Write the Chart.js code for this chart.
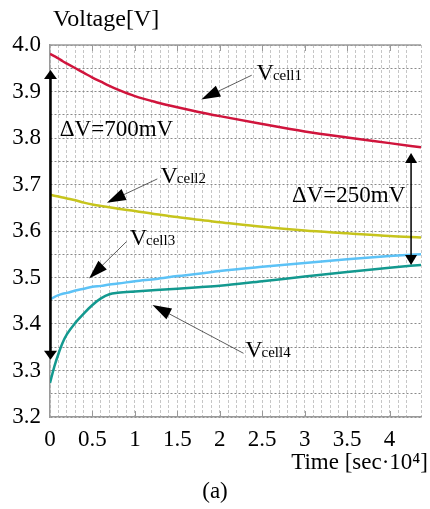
<!DOCTYPE html>
<html>
<head>
<meta charset="utf-8">
<script src="https://cdn.jsdelivr.net/npm/chart.js@4.4.1/dist/chart.umd.min.js"></script>
<style>
  html, body { margin: 0; padding: 0; background: #fff; }
  #wrap { width: 430px; height: 509px; }
</style>
</head>
<body>
<div id="wrap"><canvas id="cellChart" width="430" height="509"></canvas></div>
<script>
// time axis, sec x 10^4
const time = [0, 0.05, 0.1, 0.15, 0.2, 0.3, 0.4, 0.5, 0.6, 0.7, 0.8, 1, 1.25, 1.5, 1.75, 2, 2.5, 3, 3.5, 4, 4.37];

// cell voltages [V]
const vcell1 = [3.981, 3.976, 3.971, 3.965, 3.960, 3.950, 3.940, 3.930, 3.921, 3.912, 3.904, 3.890, 3.877, 3.866, 3.856, 3.847, 3.830, 3.814, 3.801, 3.789, 3.780];
const vcell2 = [3.678, 3.676, 3.674, 3.672, 3.670, 3.666, 3.661, 3.657, 3.654, 3.651, 3.648, 3.643, 3.636, 3.630, 3.624, 3.619, 3.609, 3.601, 3.595, 3.589, 3.586];
const vcell3 = [3.453, 3.458, 3.462, 3.465, 3.467, 3.472, 3.476, 3.480, 3.482, 3.485, 3.487, 3.492, 3.497, 3.503, 3.508, 3.514, 3.523, 3.531, 3.539, 3.546, 3.550];
const vcell4 = [3.273, 3.308, 3.336, 3.360, 3.378, 3.403, 3.423, 3.441, 3.455, 3.464, 3.467, 3.470, 3.473, 3.476, 3.479, 3.482, 3.492, 3.502, 3.512, 3.521, 3.527];

const seriesNames = ['cell1', 'cell2', 'cell3', 'cell4'];
const seriesColors = ['#d0143c', '#c6c41c', '#5cc2f6', '#13998f'];

const serif = '"Liberation Serif", "DejaVu Serif", serif';

const pts = vals => time.map((t, i) => ({ x: t, y: vals[i] }));
const isHalf = v => Math.abs(v * 2 - Math.round(v * 2)) < 1e-6;
const isTenth = v => Math.abs(v * 10 - Math.round(v * 10)) < 1e-6;

// callouts: label anchor, leader start, arrow tip (t, V)
const callouts = [
  { sub: 'cell1', label: [2.433, 3.925], from: [2.376, 3.935], to: [1.782, 3.883] },
  { sub: 'cell2', label: [1.302, 3.704], from: [1.264, 3.712], to: [0.670, 3.661] },
  { sub: 'cell3', label: [0.939, 3.570], from: [0.900, 3.577], to: [0.460, 3.498] },
  { sub: 'cell4', label: [2.299, 3.330], from: [2.279, 3.337], to: [1.207, 3.441] }
];

function head(c, x, y, ang, len, wid) {
  c.save();
  c.translate(x, y);
  c.rotate(ang);
  c.beginPath();
  c.moveTo(0, 0);
  c.lineTo(-len, -wid / 2);
  c.lineTo(-len, wid / 2);
  c.closePath();
  c.fill();
  c.restore();
}

function doubleArrow(c, x, y1, y2, lw, len, wid) {
  c.lineWidth = lw;
  c.beginPath();
  c.moveTo(x, y1 + len - 1);
  c.lineTo(x, y2 - len + 1);
  c.stroke();
  head(c, x, y1, -Math.PI / 2, len, wid);
  head(c, x, y2, Math.PI / 2, len, wid);
}

const annotations = {
  id: 'annotations',
  afterDatasetsDraw(chart) {
    const c = chart.ctx;
    const xs = chart.scales.x, ys = chart.scales.y;
    const area = chart.chartArea;
    const px = p => [xs.getPixelForValue(p[0]), ys.getPixelForValue(p[1])];

    c.save();
    // solid frame line on top, short tick marks at the half-unit positions
    c.strokeStyle = '#9a9a9a';
    c.lineWidth = 1.5;
    c.beginPath();
    c.moveTo(area.left, area.top);
    c.lineTo(area.right, area.top);
    c.stroke();
    c.lineWidth = 1;
    for (let t = 0.5; t < xs.max; t += 0.5) {
      const x = Math.round(xs.getPixelForValue(t)) + 0.5;
      c.beginPath();
      c.moveTo(x, area.bottom); c.lineTo(x, area.bottom - 6);
      c.moveTo(x, area.top); c.lineTo(x, area.top + 6);
      c.stroke();
    }

    c.fillStyle = '#000';
    c.strokeStyle = '#000';

    // voltage spread arrows
    const l1 = px([0, 3.946]), l2 = px([0, 3.323]);
    doubleArrow(c, l1[0] + 0.5, l1[1], l2[1], 2.5, 9, 13);
    const r1 = px([4.253, 3.768]), r2 = px([4.253, 3.527]);
    doubleArrow(c, r1[0], r1[1], r2[1], 1.5, 10, 12);

    c.font = '23px ' + serif;
    c.textBaseline = 'alphabetic';
    c.textAlign = 'left';
    let p = px([0.115, 3.804]);
    c.fillText('\u0394V=700mV', p[0], p[1]);
    p = px([2.85, 3.662]);
    c.fillText('\u0394V=250mV', p[0], p[1]);

    // series callouts
    callouts.forEach(k => {
      const a = px(k.from), b = px(k.to);
      const ang = Math.atan2(b[1] - a[1], b[0] - a[0]);
      c.lineWidth = 0.8;
      c.strokeStyle = '#333';
      c.beginPath();
      c.moveTo(a[0], a[1]);
      c.lineTo(b[0] - Math.cos(ang) * 12, b[1] - Math.sin(ang) * 12);
      c.stroke();
      head(c, b[0], b[1], ang, 19, 12);
      const l = px(k.label);
      c.font = '24px ' + serif;
      c.fillText('V', l[0], l[1]);
      const w = c.measureText('V').width;
      c.font = '15px ' + serif;
      c.fillText(k.sub, l[0] + w - 1, l[1]);
    });

    // axis titles and panel tag
    c.font = '24px ' + serif;
    c.textBaseline = 'middle';
    c.fillText('Voltage[V]', 53, 20);
    c.font = '23px ' + serif;
    c.textAlign = 'right';
    c.fillText('Time [sec\u00b710\u2074]', 428, 463);
    c.textAlign = 'center';
    c.fillText('(a)', 215, 492);
    c.restore();
  }
};

new Chart(document.getElementById('cellChart'), {
  type: 'line',
  data: {
    datasets: [vcell1, vcell2, vcell3, vcell4].map((v, i) => ({
      label: 'V' + seriesNames[i],
      data: pts(v),
      borderColor: seriesColors[i],
      borderWidth: 2.5,
      pointRadius: 0,
      fill: false,
      cubicInterpolationMode: 'monotone'
    }))
  },
  options: {
    responsive: false,
    animation: false,
    devicePixelRatio: 1,
    layout: { padding: { top: 45, right: 1, left: 0, bottom: 0 } },
    plugins: { legend: { display: false }, tooltip: { enabled: false } },
    scales: {
      x: {
        type: 'linear',
        min: 0,
        max: 4.37,
        afterFit: s => { s.height = 92; },
        border: { display: true, color: '#9a9a9a', width: 1.5, dash: [3, 2] },
        grid: {
          drawTicks: false,
          color: '#c6c6c6',
          lineWidth: 1
        },
        ticks: {
          stepSize: 0.1,
          autoSkip: false,
          maxRotation: 0,
          padding: 9,
          color: '#000',
          font: { family: serif, size: 23 },
          callback: v => isHalf(v) && v < 4.3 ? String(Math.round(v * 2) / 2) : ''
        }
      },
      y: {
        min: 3.2,
        max: 4.0,
        afterFit: s => { s.width = 50; },
        border: { display: true, color: '#9a9a9a', width: 1.5, dash: [2, 2] },
        grid: {
          drawTicks: false,
          color: '#8a8a8a',
          lineWidth: 1
        },
        ticks: {
          stepSize: 0.05,
          autoSkip: false,
          padding: 9,
          color: '#000',
          font: { family: serif, size: 23 },
          callback: v => isTenth(v) ? v.toFixed(1) : ''
        }
      }
    }
  },
  plugins: [annotations]
});
</script>
</body>
</html>
